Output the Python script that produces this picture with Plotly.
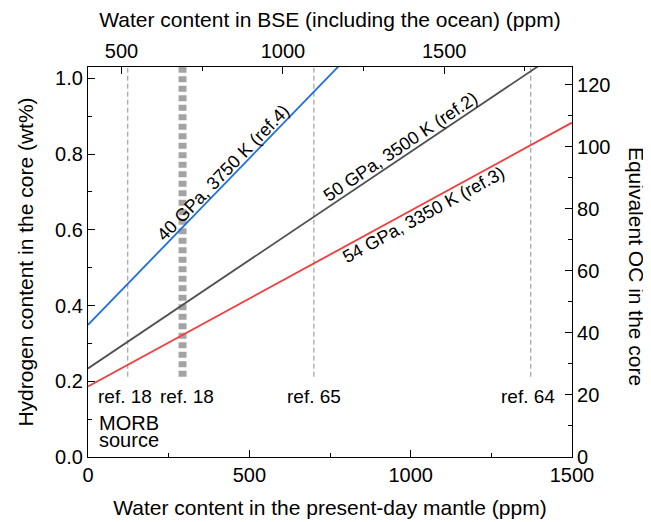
import math
import numpy as np
import plotly.graph_objects as go

# ---------------- data ----------------
mantle_x = [0, 1500]                      # water content in present-day mantle (ppm)
h_40gpa = [0.349, 1.668]                  # 40 GPa, 3750 K (ref.4)
h_50gpa = [0.234, 1.092]                  # 50 GPa, 3500 K (ref.2)
h_54gpa = [0.186, 0.883]                  # 54 GPa, 3350 K (ref.3)

series_names = ["40 GPa, 3750 K (ref.4)", "50 GPa, 3500 K (ref.2)", "54 GPa, 3350 K (ref.3)"]
series_values = [h_40gpa, h_50gpa, h_54gpa]
series_colors = ["#1f6fdc", "#505050", "#f23c3c"]
label_x = [419, 967, 1039]
label_shift = [12, 12, -11]

ref_x = [123, 700, 1372]
ref_labels = ["ref. 18", "ref. 65", "ref. 64"]
ref_label_xshift = [-3, 0, -3]
morb_x = 293
morb_ref_label = "ref. 18"
ref_line_y = [0.212, 1.03]
ref_label_y = 0.16

bse_offset = 396          # BSE water = mantle water + ocean
oc_per_wt = 122.1         # equivalent oceans per wt% H in core

x_range = [0, 1500]
y_range = [0, 1.03]

# page body has an 8px margin -> figure is 8px smaller, margins shifted
W, H = 643, 514
ML, MR, MT, MB = 80, 79, 59, 65
FONT = "Liberation Sans, Arial, sans-serif"

fig = go.Figure()

# reference vertical lines
for xv in ref_x:
    fig.add_trace(go.Scatter(x=[xv, xv], y=ref_line_y, mode="lines",
                             line=dict(color="#a8a8a8", width=1.3, dash="5px,3px"),
                             hoverinfo="skip", showlegend=False))
fig.add_trace(go.Scatter(x=[morb_x, morb_x], y=ref_line_y, mode="lines",
                         line=dict(color="#a3a3a3", width=8, dash="6px,3.5px"),
                         hoverinfo="skip", showlegend=False))

# model lines
for name, vals, col in zip(series_names, series_values, series_colors):
    fig.add_trace(go.Scatter(x=mantle_x, y=vals, mode="lines", name=name,
                             line=dict(color=col, width=1.8), showlegend=False))

# same curves on the secondary scales (transparent) so the top/right axes are drawn
fig.add_trace(go.Scatter(x=[v + bse_offset for v in mantle_x], y=h_40gpa, xaxis="x2", yaxis="y",
                         mode="lines", line=dict(color="rgba(0,0,0,0)", width=0),
                         hoverinfo="skip", showlegend=False))
fig.add_trace(go.Scatter(x=mantle_x, y=[v * oc_per_wt for v in h_40gpa], xaxis="x", yaxis="y2",
                         mode="lines", line=dict(color="rgba(0,0,0,0)", width=0),
                         hoverinfo="skip", showlegend=False))

# plot-area pixel scale for label angles
pw = W - ML - MR
ph = H - MT - MB
ppx = pw / (x_range[1] - x_range[0])
ppy = ph / (y_range[1] - y_range[0])

annotations = []
for name, vals, lx, sh in zip(series_names, series_values, label_x, label_shift):
    slope = (vals[1] - vals[0]) / (mantle_x[1] - mantle_x[0])
    ang = -math.degrees(math.atan(slope * ppy / ppx))
    ly = float(np.interp(lx, mantle_x, vals))
    annotations.append(dict(x=lx, y=ly, xref="x", yref="y", text=name, showarrow=False,
                            textangle=ang, yshift=sh, font=dict(size=18, color="black", family=FONT)))

for xv, t, xs in zip(ref_x, ref_labels, ref_label_xshift):
    annotations.append(dict(x=xv, y=ref_label_y, xref="x", yref="y", text=t, showarrow=False,
                            xshift=xs, font=dict(size=19, color="black", family=FONT)))
annotations.append(dict(x=morb_x, y=ref_label_y, xref="x", yref="y", text=morb_ref_label,
                        showarrow=False, xshift=4, font=dict(size=19, color="black", family=FONT)))
annotations.append(dict(x=27, y=0.0898, xref="x", yref="y", text="MORB", showarrow=False,
                        xanchor="left", font=dict(size=20, color="black", family=FONT)))
annotations.append(dict(x=27, y=0.0449, xref="x", yref="y", text="source", showarrow=False,
                        xanchor="left", font=dict(size=20, color="black", family=FONT)))
# right axis title (reads top-to-bottom)
annotations.append(dict(x=(628 - ML) / pw, y=0.49, xref="paper", yref="paper",
                        xanchor="center", yanchor="middle",
                        text="Equivalent OC in the core", showarrow=False, textangle=90,
                        font=dict(size=21, color="black", family=FONT)))

axis_common = dict(showline=True, linecolor="black", linewidth=1.2, ticks="inside",
                   ticklen=7, tickwidth=1.2, tickcolor="black", showgrid=False, zeroline=False,
                   tickfont=dict(size=20, color="black", family=FONT))
minor_common = dict(ticks="inside", ticklen=4, tickwidth=1.2, tickcolor="black", showgrid=False)

fig.update_layout(
    width=W, height=H,
    margin=dict(l=ML, r=MR, t=MT, b=MB, autoexpand=False),
    plot_bgcolor="white", paper_bgcolor="white",
    font=dict(family=FONT, color="black"),
    showlegend=False,
    xaxis=dict(range=x_range, dtick=500, tick0=0, minor=dict(dtick=250, **minor_common),
               title=dict(text="Water content in the present-day mantle (ppm)",
                          font=dict(size=21, color="black", family=FONT), standoff=15),
               **axis_common),
    xaxis2=dict(range=[x_range[0] + bse_offset, x_range[1] + bse_offset], overlaying="x",
                side="top", anchor="y", dtick=500, tick0=0,
                minor=dict(dtick=250, **minor_common),
                title=dict(text="Water content in BSE (including the ocean) (ppm)",
                           font=dict(size=21, color="black", family=FONT), standoff=8),
                **axis_common),
    yaxis=dict(range=y_range, dtick=0.2, tick0=0, tickformat=".1f",
               minor=dict(dtick=0.1, **minor_common),
               title=dict(text="Hydrogen content in the core (wt%)",
                          font=dict(size=21, color="black", family=FONT), standoff=15),
               **axis_common),
    yaxis2=dict(range=[y_range[0] * oc_per_wt, y_range[1] * oc_per_wt], overlaying="y",
                side="right", anchor="x", dtick=20, tick0=0,
                minor=dict(dtick=10, **minor_common), **axis_common),
    annotations=annotations,
)

fig.write_html("out.html")
